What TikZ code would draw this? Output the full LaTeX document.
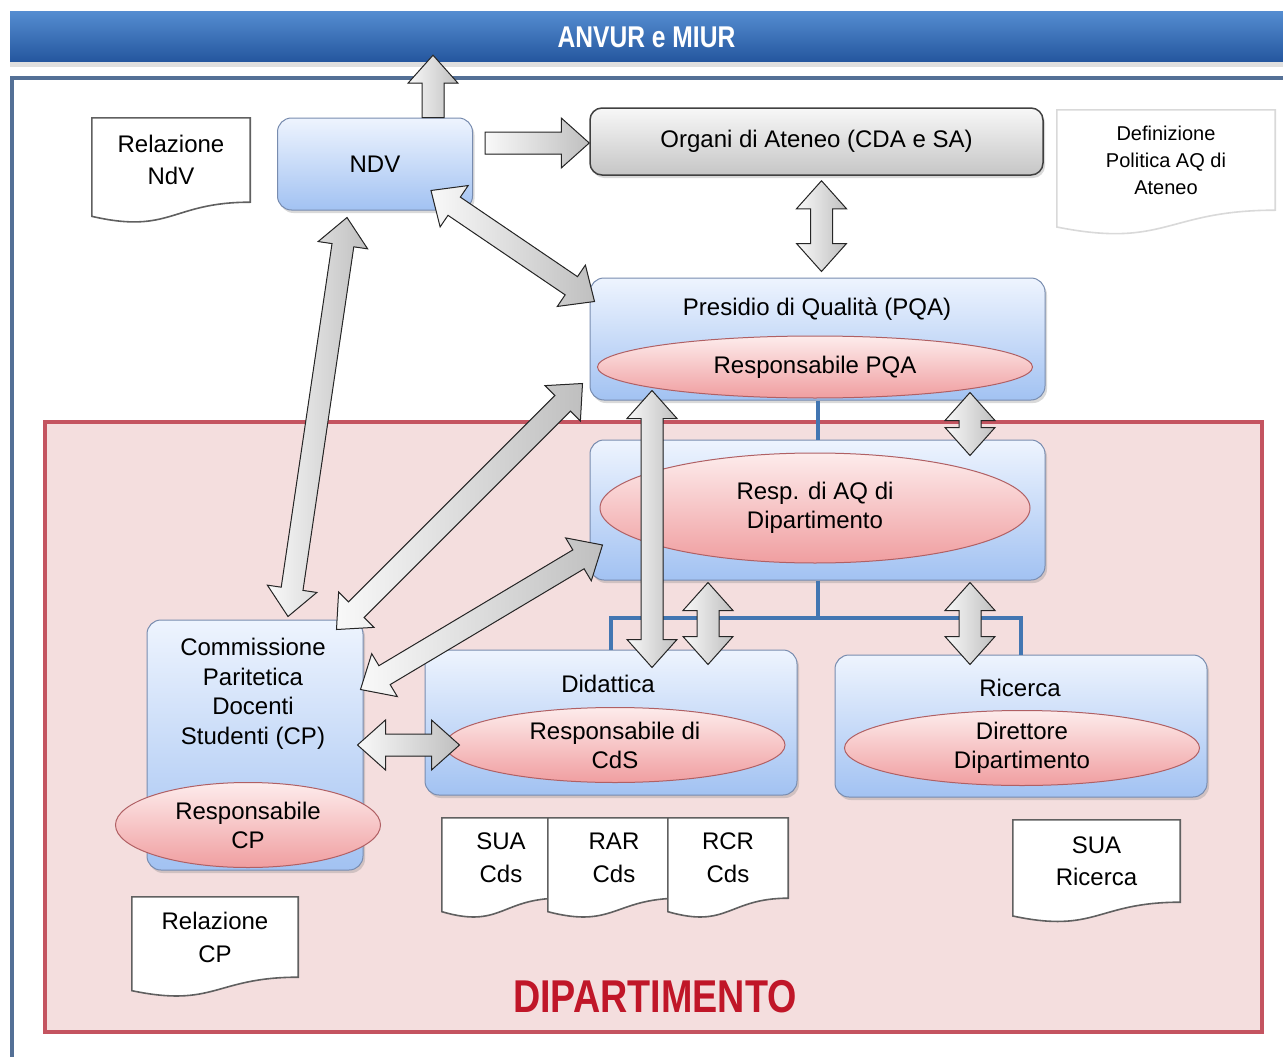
\documentclass[tikz,border=0pt]{standalone}
\usepackage{fontspec}
\setmainfont{Liberation Sans}
\newfontfamily\narrowsans[FakeStretch=0.82]{Liberation Sans}
\usepackage{xcolor}
\usepackage{tikz}
\usetikzlibrary{calc,shapes.geometric,shadows}

\definecolor{bannertop}{RGB}{84,140,208}
\definecolor{bannerbot}{RGB}{36,86,158}
\definecolor{framecol}{RGB}{84,112,150}
\definecolor{dipfill}{RGB}{244,222,222}
\definecolor{dipline}{RGB}{196,84,96}
\definecolor{boxtop}{RGB}{238,244,254}
\definecolor{boxbot}{RGB}{162,194,242}
\definecolor{boxline}{RGB}{120,140,175}
\definecolor{elltop}{RGB}{253,236,236}
\definecolor{ellbot}{RGB}{240,158,160}
\definecolor{ellline}{RGB}{176,96,100}
\definecolor{treecol}{RGB}{66,118,178}
\definecolor{diptext}{RGB}{192,22,40}

\newcommand\arrhl{28pt}
\newcommand\arrhw{25pt}
\newcommand\arrsw{11pt}

% fat arrow with two heads
\newcommand\fatdbl[2]{%
  \coordinate (fa) at #1; \coordinate (fb) at #2;
  \filldraw[fatarrow] (fa) -- ($(fa)!\arrhl!(fb)!\arrhw!90:(fb)$)
    -- ($(fa)!\arrhl!(fb)!\arrsw!90:(fb)$) -- ($(fb)!\arrhl!(fa)!\arrsw!-90:(fa)$)
    -- ($(fb)!\arrhl!(fa)!\arrhw!-90:(fa)$) -- (fb)
    -- ($(fb)!\arrhl!(fa)!\arrhw!90:(fa)$) -- ($(fb)!\arrhl!(fa)!\arrsw!90:(fa)$)
    -- ($(fa)!\arrhl!(fb)!\arrsw!-90:(fb)$) -- ($(fa)!\arrhl!(fb)!\arrhw!-90:(fb)$) -- cycle;}
% fat arrow with one head
\newcommand\fatsgl[2]{%
  \coordinate (fa) at #1; \coordinate (fb) at #2;
  \filldraw[fatarrow] ($(fa)!\arrsw!90:(fb)$) -- ($(fb)!\arrhl!(fa)!\arrsw!-90:(fa)$)
    -- ($(fb)!\arrhl!(fa)!\arrhw!-90:(fa)$) -- (fb)
    -- ($(fb)!\arrhl!(fa)!\arrhw!90:(fa)$) -- ($(fb)!\arrhl!(fa)!\arrsw!90:(fa)$)
    -- ($(fa)!\arrsw!-90:(fb)$) -- cycle;}
% wavy bottom of a document node
\newcommand\docwave[2][]{%
  \fill[white] (#2.south west) -- (#2.south east) .. controls (#2.south) and ($(#2.north)!1.384!(#2.south)$) .. ($(#2.north west)!1.1675!(#2.south west)$) -- cycle;
  \draw[docline,#1] (#2.north west) -- (#2.north east) -- (#2.south east) .. controls (#2.south) and ($(#2.north)!1.384!(#2.south)$) .. ($(#2.north west)!1.1675!(#2.south west)$) -- cycle;}

\tikzset{
  banner/.style={minimum width=1273pt, minimum height=50pt, top color=bannertop, bottom color=bannerbot,
    text=white, font=\narrowsans\bfseries\fontsize{30}{34}\selectfont,
    drop shadow={opacity=0.25, shadow xshift=0pt, shadow yshift=-5pt}},
  bluebox/.style={draw=boxline, line width=1pt, rounded corners=14pt, top color=boxtop, bottom color=boxbot,
    drop shadow={opacity=0.3, shadow xshift=2pt, shadow yshift=-3pt}},
  graybox/.style={draw=black!75, line width=1.5pt, rounded corners=12pt, top color=gray!6, bottom color=gray!45,
    drop shadow={opacity=0.3, shadow xshift=2pt, shadow yshift=-3pt}},
  respell/.style={ellipse, draw=ellline, line width=1pt, top color=elltop, bottom color=ellbot, inner sep=0pt, align=center},
  doctext/.style={fill=white, inner sep=0pt, align=center},
  docline/.style={draw=gray!75!black, line width=1.6pt},
  fatarrow/.style={draw=black!85, line width=1pt, left color=gray!5, right color=gray!50},
  tree/.style={treecol, line width=4pt}
}

\begin{document}
\begin{tikzpicture}[x=1pt, y=-1pt, font=\fontsize{24}{29}\selectfont]
\useasboundingbox (0,0) rectangle (1283,1057);
% frame and banner
\draw[framecol, line width=4pt] (12,1060) -- (12,78) -- (1290,78);
\node[banner] (anvur) at (646.5,37) {ANVUR e MIUR};
% department area
\draw[dipline, line width=4pt, fill=dipfill] (45,422) rectangle (1262,1032);
\node[font=\narrowsans\bfseries\fontsize{46}{50}\selectfont, text=diptext] (diplab) at (655,997) {DIPARTIMENTO};

% boxes
\node[bluebox, minimum width=195pt, minimum height=92pt] (ndv) at (375,164) {NDV};
\node[graybox, minimum width=453pt, minimum height=67pt] (org) at (816.5,141.5) {Organi di Ateneo (CDA e SA)};
\node[bluebox, minimum width=455pt, minimum height=122pt] (pqa) at (817.5,339) {};
\node (pqat) at (817,309) {Presidio di Qualità (PQA)};
\node[respell, minimum width=435pt, minimum height=62pt] (pqar) at (815,367) {Responsabile PQA};
\node[bluebox, minimum width=455pt, minimum height=140pt] (aqd) at (817.5,510) {};
\node[respell, minimum width=430pt, minimum height=110pt] (aqdr) at (815,508) {Resp. di AQ di\\Dipartimento};
\node[bluebox, minimum width=216pt, minimum height=250pt] (cp) at (255,745) {};
\node[align=center, font=\fontsize{24}{29.5}\selectfont] (cpt) at (253,694) {Commissione\\Paritetica\\Docenti\\Studenti (CP)};
\node[respell, minimum width=265pt, minimum height=85pt] (cpr) at (248,825) {Responsabile\\CP};
\node[bluebox, minimum width=372pt, minimum height=145pt] (did) at (611,722.5) {};
\node (didt) at (608,684) {Didattica};
\node[respell, minimum width=340pt, minimum height=75pt] (didr) at (615,745) {Responsabile di\\CdS};
\node[bluebox, minimum width=372pt, minimum height=142pt] (ric) at (1021,726) {};
\node (rict) at (1020,688) {Ricerca};
\node[respell, minimum width=355pt, minimum height=75pt] (ricr) at (1022,748) {Direttore\\Dipartimento};

% documents
\node[doctext, minimum width=158pt, minimum height=84pt, font=\fontsize{24}{32}\selectfont] (relndv) at (171,160) {Relazione\\NdV};
\docwave{relndv}
\node[doctext, minimum width=218pt, minimum height=100pt, font=\fontsize{20}{27}\selectfont] (defpol) at (1166,160) {Definizione\\Politica AQ di\\Ateneo};
\docwave[draw=gray!30]{defpol}
\node[doctext, minimum width=118pt, minimum height=80pt, font=\fontsize{24}{33}\selectfont] (suacds) at (501,858) {SUA\\Cds};
\docwave{suacds}
\node[doctext, minimum width=132pt, minimum height=80pt, font=\fontsize{24}{33}\selectfont] (rarcds) at (614,858) {RAR\\Cds};
\docwave{rarcds}
\node[doctext, minimum width=120pt, minimum height=80pt, font=\fontsize{24}{33}\selectfont] (rcrcds) at (728,858) {RCR\\Cds};
\docwave{rcrcds}
\node[doctext, minimum width=167pt, minimum height=82pt, font=\fontsize{24}{32}\selectfont] (suaric) at (1096.5,861) {SUA\\Ricerca};
\docwave{suaric}
\node[doctext, minimum width=166pt, minimum height=80pt, font=\fontsize{24}{33}\selectfont] (relcp) at (215,937) {Relazione\\CP};
\docwave{relcp}

% blue links
\draw[tree] (pqa.south) -- (aqd.north);
\draw[tree] (aqd.south) -- ++(0,37) coordinate (fork);
\draw[tree] (did.north) |- (fork) -| (ric.north);

% fat arrows
\fatsgl{($(ndv.north)+(58,0)$)}{($(anvur.south)+(-213.5,-7)$)}
\fatsgl{($(ndv.east)+(12,-21)$)}{($(org.west)+(0,1.5)$)}
\fatdbl{($(org.south)+(5,5)$)}{($(pqa.north)+(4,-6)$)}
\fatdbl{($(ndv.south east)+(-42,-20)$)}{($(pqa.north west)+(5,24)$)}
\fatdbl{($(ndv.south)+(-28,7)$)}{($(cp.north)+(33,-3)$)}
\fatdbl{($(pqa.south west)+(-7,-17)$)}{($(cp.north east)+(-27,10)$)}
\fatdbl{($(aqd.west)+(13,35)$)}{($(cp.north east)+(-3,70)$)}
\fatdbl{($(cp.east)+(-6,0)$)}{($(did.west)+(35,22.5)$)}
\fatdbl{($(pqa.south)+(-165.5,-10)$)}{($(did.north)+(41,18)$)}
\fatdbl{($(pqa.south)+(152.5,-8)$)}{($(aqd.north)+(152.5,16)$)}
\fatdbl{($(aqd.south)+(-109.5,2)$)}{($(did.north)+(97,15)$)}
\fatdbl{($(aqd.south)+(152.5,2)$)}{($(ric.north)+(-51,10)$)}
\end{tikzpicture}
\end{document}
